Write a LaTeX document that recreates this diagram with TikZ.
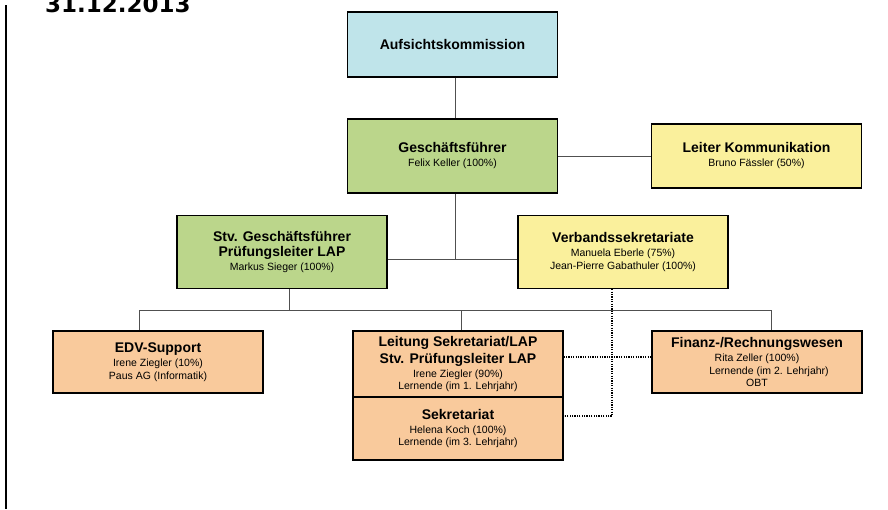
\documentclass[tikz,border=0pt]{standalone}
\usepackage{fontspec}
\setmainfont{Liberation Sans}
\newfontfamily\titlefont{DejaVu Sans}
\usepackage{tikz}
\definecolor{bcol}{RGB}{191,228,234}
\definecolor{gcol}{RGB}{187,214,139}
\definecolor{ycol}{RGB}{250,240,156}
\definecolor{ocol}{RGB}{249,202,156}
\definecolor{lcol}{RGB}{80,80,80}
\newcommand{\hd}{\fontsize{14}{15}\selectfont\bfseries}
\newcommand{\sbt}{\fontsize{10.5}{12.5}\selectfont}
\tikzset{every picture/.style={x=1pt,y=-1pt}}
\tikzset{box/.style={draw=black,line width=1.3pt,minimum width=210pt,align=center,inner sep=2pt,text=black,font=\sbt}}
\tikzset{edge/.style={draw=lcol,line width=0.9pt}}
\tikzset{dots/.style={draw=black,line width=1.2pt,dash pattern=on 1.2pt off 1.2pt}}

\begin{document}
\begin{tikzpicture}
\useasboundingbox (0,0) rectangle (888,509);
\node [anchor=base west,inner sep=0pt] (title) at (45,12) {\titlefont\bfseries\fontsize{23}{26}\selectfont 31.12.2013};
\coordinate (f1) at (6,5);
\coordinate (f2) at (6,509);
\draw [black,line width=1.3pt] (f1) -- (f2);

\node [box,fill=bcol,minimum height=65pt] (auf) at (452.5,44.5) {{\hd Aufsichtskommission}};
\node [box,fill=gcol,minimum height=74pt] (gf) at (452.5,156) {{\hd Geschäftsführer}\\[1.5pt]Felix Keller (100\%)};
\node [box,fill=ycol,minimum height=64pt] (lk) at (756.5,156) {{\hd Leiter Kommunikation}\\[1.5pt]Bruno Fässler (50\%)};

\node [box,fill=gcol,minimum height=73pt] (stv) at (282,252) {{\hd Stv. Geschäftsführer}\\[2.5pt]{\hd Prüfungsleiter LAP}\\[1.5pt]Markus Sieger (100\%)};
\node [box,fill=ycol,minimum height=73pt] (vs) at (623,252) {{\hd Verbandssekretariate}\\[1.5pt]Manuela Eberle (75\%)\\Jean-Pierre Gabathuler (100\%)};

\node [box,fill=ocol,minimum height=62pt] (edv) at (158,362) {{\hd EDV-Support}\\[1.5pt]Irene Ziegler (10\%)\\Paus AG (Informatik)};
\node [box,fill=ocol,minimum height=66pt] (lei) at (458,364) {{\hd Leitung Sekretariat/LAP}\\[2.5pt]{\hd Stv. Prüfungsleiter LAP}\\[1.5pt]Irene Ziegler (90\%)\\Lernende (im 1. Lehrjahr)};
\node [box,fill=ocol,minimum height=63pt] (sek) at (458,428.5) {{\hd Sekretariat}\\[1.5pt]Helena Koch (100\%)\\Lernende (im 3. Lehrjahr)};
\node [box,fill=ocol,minimum height=62pt] (fin) at (757,362) {{\hd Finanz-/Rechnungswesen}\\[1.5pt]Rita Zeller (100\%)\\\hspace*{24pt}Lernende (im 2. Lehrjahr)\\OBT};

\coordinate (j1) at (455,259);
\coordinate (s1) at (289,310);
\coordinate (b1) at (139,310);
\coordinate (b2) at (461,310);
\coordinate (b3) at (771,310);
\coordinate (d1) at (612,416);

\draw [edge] (auf.south -| j1) -- (gf.north -| j1);
\draw [edge] (gf.south -| j1) -- (j1);
\draw [edge] (stv.east |- j1) -- (vs.west |- j1);
\draw [edge] (gf.east) -- (lk.west);
\draw [edge] (stv.south -| s1) -- (s1);
\draw [edge] (b1) -- (b3);
\draw [edge] (b1) -- (edv.north -| b1);
\draw [edge] (b2) -- (lei.north -| b2);
\draw [edge] (b3) -- (fin.north -| b3);

\draw [dots] (vs.south -| d1) -- (d1) -- (sek.east |- d1);
\draw [dots] (lei.east |- 0,357) -- (fin.west |- 0,357);
\end{tikzpicture}
\end{document}
